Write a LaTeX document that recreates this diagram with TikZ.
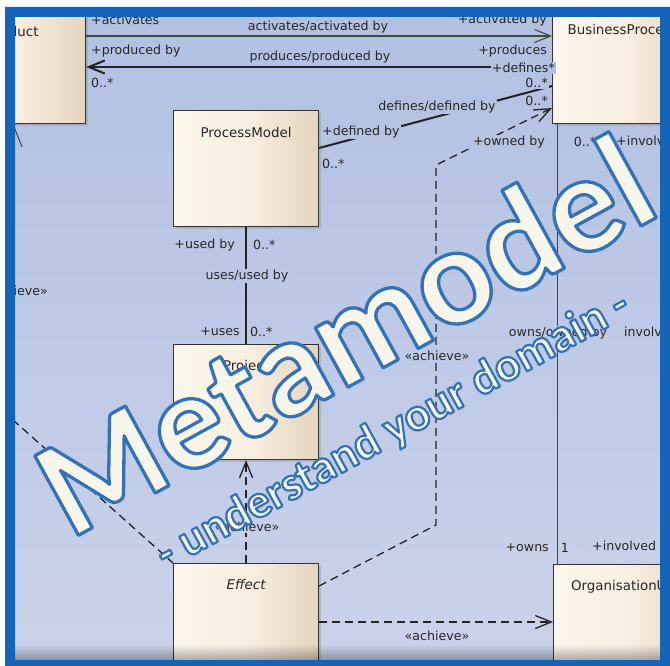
\documentclass[tikz,border=0pt]{standalone}
\usepackage{fontspec}
\setmainfont{DejaVu Sans}
\newfontfamily\bigfont{Carlito}
\usetikzlibrary{arrows.meta,shadows,calc,decorations.pathmorphing,fadings}
\definecolor{frameblue}{RGB}{22,100,184}
\definecolor{bgT}{RGB}{177,193,226}
\definecolor{bgB}{RGB}{203,210,234}
\definecolor{boxL}{RGB}{253,246,236}
\definecolor{boxM}{RGB}{249,239,225}
\definecolor{boxR}{RGB}{229,213,190}
\definecolor{boxline}{RGB}{50,50,50}
\definecolor{ink}{RGB}{38,38,38}
\definecolor{lineink}{RGB}{35,35,35}
\definecolor{cream}{RGB}{248,246,235}
\definecolor{squig}{RGB}{232,92,92}
\newlength\wA \newlength\wB \newlength\wC \newlength\wD \newlength\wE \newlength\wF
\newcommand\labfont{\fontsize{12.6}{14}\selectfont}
\newcommand\ttlfont{\fontsize{13.4}{15}\selectfont}
\newcommand\subfont{\bigfont\bfseries\fontsize{47}{52}\selectfont}
\newcommand\outlined[2]{\special{pdf:literal direct 1 j #1 w 0.20 0.45 0.71 RG 2 Tr}#2\special{pdf:literal direct 0 Tr}}
\newcommand\lbl[5][]{\pgfmathtruncatemacro\pp{(660-#4)/643*100}\node[lab,fill=bgT!\pp!bgB,#1] (#2) at (#3,#4) {#5};}
\begin{document}
\begin{tikzpicture}[x=1pt,y=-1pt,
  lab/.style={font=\labfont, text=ink, inner sep=1pt},
  ttl/.style={font=\ttlfont, text=ink, inner sep=0pt},
  cls/.style={draw=boxline, line width=1.1pt, left color=boxL, right color=boxR, middle color=boxM,
    anchor=north west, inner sep=0pt,
    drop shadow={opacity=0.3, shadow xshift=2.5pt, shadow yshift=-2.5pt}},
  assoc/.style={draw=lineink, line width=2pt},
  thinassoc/.style={draw=lineink!85, line width=1.1pt},
  dep/.style={draw=lineink, line width=1.3pt, dash pattern=on 8pt off 5pt},
  barb/.style={-{Straight Barb[length=16pt,width=13pt]}},
  wavy/.style={draw=squig, line width=0.8pt, decorate, decoration={snake, amplitude=1.1pt, segment length=4.2pt}}
]
\useasboundingbox (0,0) rectangle (670,666);
\fill[white] (0,0) rectangle (670,666);
\begin{scope}
\clip (15,17) rectangle (660,660);
\shade[top color=bgT, bottom color=bgB] (15,17) rectangle (660,660);
% boxes
\path (-60,9) coordinate (prodNW) (173,110) coordinate (pmNW) (552,7) coordinate (bpNW)
      (173,344) coordinate (prjNW) (173,563) coordinate (effNW) (553,564) coordinate (orgNW);
\node[cls, minimum width=145pt, minimum height=114pt] (prod) at (prodNW) {};
\node[cls, minimum width=145pt, minimum height=116pt] (pm) at (pmNW) {};
\node[cls, minimum width=140pt, minimum height=116pt] (bp) at (bpNW) {};
\node[cls, minimum width=145pt, minimum height=115pt] (prj) at (prjNW) {};
\node[cls, minimum width=145pt, minimum height=140pt] (eff) at (effNW) {};
\node[cls, minimum width=148pt, minimum height=140pt] (org) at (orgNW) {};
% connectors
\coordinate (pfree) at (22,147);
\coordinate (lfree) at (3,411);
\coordinate (k1) at (436,525);
\coordinate (k2) at (436,165);
\draw[thinassoc, barb] (prod.east |- 0,36) -- (bp.west |- 0,36);
\draw[assoc, barb] (bp.west |- 0,67) -- (prod.east |- 0,67);
\draw[assoc] (pm.east |- 0,148) -- (bp.west |- 0,86);
\draw[assoc, line width=2.3pt] (pm.south) -- (prj.north);
\draw[thinassoc, line width=1pt] (bp.south -| 557,0) -- (org.north -| 557,0);
\draw[thinassoc, line width=1pt] (prod.south -| 13,0) -- (pfree);
\draw[dep, barb] (eff.east |- 0,586) -- (k1) -- (k2) -- (bp.west |- 0,108);
\draw[dep, barb] (eff.north) -- (prj.south);
\draw[dep, barb] (eff.east |- 0,622) -- (org.west |- 0,622);
\draw[dep] (lfree) -- (eff.north west);
% labels
\lbl[anchor=west]{l1}{90}{20}{+activates}
\lbl{l2}{318}{27}{activates/activated by}
\lbl[anchor=east]{l3}{548}{20}{+activated by}
\lbl[anchor=west]{l4}{90}{51}{+produced by}
\lbl[anchor=west]{l5}{90}{83}{0..*}
\lbl{l6}{320}{57}{produces/produced by}
\lbl[anchor=east]{l7}{548}{51}{+produces}
\lbl[anchor=east]{l8}{556}{68}{+defines*}
\lbl[anchor=east]{l9}{549}{83}{0..*}
\lbl{l10}{437}{107}{defines/defined by}
\lbl[anchor=east]{l11}{549}{101}{0..*}
\lbl[anchor=west]{l12}{321}{132}{+defined by}
\lbl[anchor=west]{l13}{321}{164}{0..*}
\lbl[anchor=east]{l14}{546}{142}{+owned by}
\lbl{l15}{585}{142}{0..*}
\lbl[anchor=west]{l16}{615}{142}{+involved by}
\lbl[anchor=east]{l17}{236}{245}{+used by}
\lbl[anchor=west]{l18}{252}{245}{0..*}
\lbl{l19}{247}{276}{uses/used by}
\lbl[anchor=east]{l20}{241}{332}{+uses}
\lbl[anchor=west]{l21}{249}{332}{0..*}
\lbl[anchor=east]{l22}{49}{291}{«achieve»}
\lbl{l23}{437}{356}{«achieve»}
\lbl{l24}{558}{333}{owns/owned by}
\lbl[anchor=west]{l25}{623}{333}{involves/involved by}
\lbl[anchor=east]{l26}{550}{548}{+owns}
\lbl{l27}{565}{548}{1}
\lbl[anchor=west]{l28}{591}{547}{+involved by}
\lbl{l29}{247}{527}{«achieve»}
\lbl{l30}{437}{636}{«achieve»}
% titles
\node[ttl] (prodT) at ($(prod.north)+(0,23)$) {Product};
\node[ttl] (pmT) at ($(pm.north)+(0,23)$) {ProcessModel};
\node[ttl] (bpT) at ($(bp.north)+(0,23)$) {BusinessProcess};
\node[ttl] (prjT) at ($(prj.north)+(0,23)$) {Project};
\node[ttl, font=\ttlfont\itshape] (effT) at ($(eff.north)+(0,22)$) {Effect};
\node[ttl] (orgT) at ($(org.north)+(0,23)$) {OrganisationUnit};
% big title
\node[anchor=base west, rotate=28.8, inner sep=0pt, text=cream, font=\bigfont\bfseries\fontsize{140}{150}\selectfont] (meta) at (70,540) {\outlined{3.3}{Metamodel}};
\settowidth\wA{\subfont - }
\settowidth\wB{\subfont - understand}
\settowidth\wC{\subfont - understand }
\settowidth\wD{\subfont - understand your}
\settowidth\wE{\subfont - understand your }
\settowidth\wF{\subfont - understand your domain}
\node[anchor=base west, rotate=28.8, inner sep=0pt, text=cream, font=\subfont] (sub) at (166,570) {\outlined{2.2}{- understand your domain -}};
\begin{scope}[shift={(166,570)}, rotate=28.8]
\draw[wavy] (\wA,-5pt) -- (\wB,-5pt);
\draw[wavy] (\wC,-5pt) -- (\wD,-5pt);
\draw[wavy] (\wE,-5pt) -- (\wF,-5pt);
\end{scope}
\fill[black, opacity=0.3, path fading=north] (15,644) rectangle (660,660);
\end{scope}
\fill[frameblue, even odd rule] (5,7) rectangle (670,666) (15,17) rectangle (660,660);
\end{tikzpicture}
\end{document}
